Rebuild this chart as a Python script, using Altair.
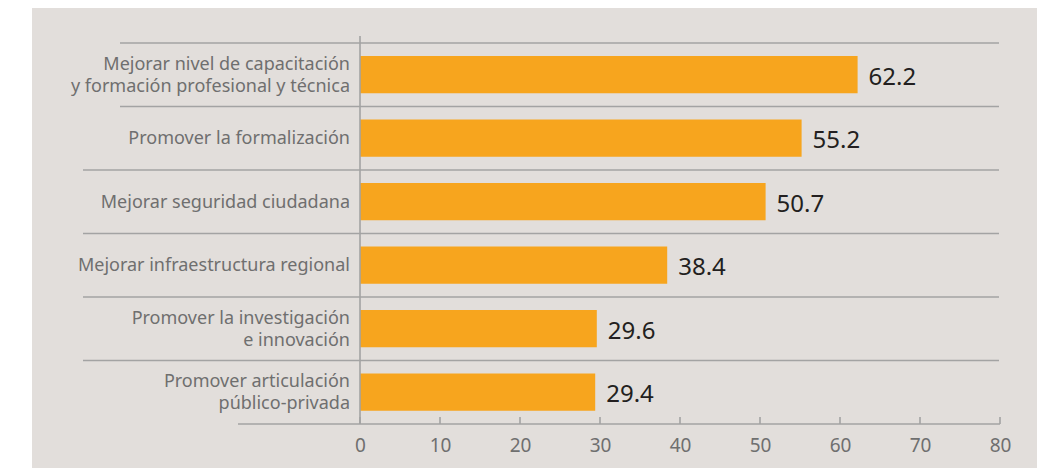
import altair as alt
import pandas as pd

categories = [
    ["Mejorar nivel de capacitación", "y formación profesional y técnica"],
    ["Promover la formalización"],
    ["Mejorar seguridad ciudadana"],
    ["Mejorar infraestructura regional"],
    ["Promover la investigación", "e innovación"],
    ["Promover articulación", "público-privada"],
]
values = [62.2, 55.2, 50.7, 38.4, 29.6, 29.4]
x_ticks = [0, 10, 20, 30, 40, 50, 60, 70, 80]
separators_long = [2, 3, 4, 5]
separators_short = [0, 1]

W, H = 640, 381
FONT = "Noto Sans"
BG = "#e2dedb"
BAR = "#f7a51e"
LINE = "#a3a3a3"
LABEL = "#6f6f6f"

df = pd.DataFrame({
    "idx": list(range(len(values))),
    "label": categories,
    "nlines": [len(c) for c in categories],
    "value": values,
    "vtext": [f"{v:.1f}" for v in values],
})

xscale = alt.Scale(domain=[0, 80], range=[0, W])
yscale = alt.Scale(domain=[0, 6], reverse=True)

panel = alt.Chart(pd.DataFrame({"a": [0]})).mark_rect(color=BG).encode(
    x=alt.value(-328), x2=alt.value(677), y=alt.value(-35), y2=alt.value(430)
)

sep_long = alt.Chart(pd.DataFrame({"b": separators_long})).mark_rule(
    color=LINE, strokeWidth=1.6
).encode(
    y=alt.Y("b:Q", scale=yscale, axis=None),
    x=alt.value(-277), x2=alt.value(639),
)
sep_short = alt.Chart(pd.DataFrame({"b": separators_short})).mark_rule(
    color=LINE, strokeWidth=1.6
).encode(
    y=alt.Y("b:Q", scale=yscale, axis=None),
    x=alt.value(-240), x2=alt.value(639),
)

base = alt.Chart(df)

bars = base.transform_calculate(
    y0="datum.idx + 0.205", y1="datum.idx + 0.79"
).mark_bar(color=BAR).encode(
    x=alt.X("value:Q", scale=xscale,
            axis=alt.Axis(values=x_ticks, domain=False, ticks=False, grid=False,
                          labelFontSize=19, labelColor=LABEL, labelFont=FONT,
                          labelFlush=False, labelPadding=12, title=None, zindex=2)),
    x2=alt.datum(0),
    y=alt.Y("y0:Q", scale=yscale, axis=None),
    y2="y1:Q",
)

vlabels = base.transform_calculate(yc="datum.idx + 0.5").mark_text(
    align="left", baseline="middle", dx=11, dy=3, fontSize=24, font=FONT, color="#231f20"
).encode(
    x=alt.X("value:Q", scale=xscale),
    y=alt.Y("yc:Q", scale=yscale, axis=None),
    text="vtext:N",
)

clabels_one = base.transform_filter("datum.nlines == 1").transform_calculate(
    yc="datum.idx + 0.5"
).mark_text(
    align="right", baseline="middle", fontSize=18, font=FONT, color=LABEL, dy=1
).encode(
    x=alt.value(-10),
    y=alt.Y("yc:Q", scale=yscale, axis=None),
    text="label",
)
clabels_two = base.transform_filter("datum.nlines == 2").transform_calculate(
    yc="datum.idx + 0.5"
).mark_text(
    align="right", baseline="middle", fontSize=18, font=FONT, color=LABEL,
    lineHeight=22, dy=-10
).encode(
    x=alt.value(-10),
    y=alt.Y("yc:Q", scale=yscale, axis=None),
    text="label",
)

yaxis_line = alt.Chart(pd.DataFrame({"a": [0]})).mark_rule(color=LINE, strokeWidth=1.6).encode(
    x=alt.value(0), y=alt.value(-7), y2=alt.value(H)
)
xaxis_line = alt.Chart(pd.DataFrame({"a": [0]})).mark_rule(color=LINE, strokeWidth=1.6).encode(
    x=alt.value(-122), x2=alt.value(W), y=alt.value(H)
)
xticks = alt.Chart(pd.DataFrame({"t": x_ticks})).mark_rule(color=LINE, strokeWidth=1.6).encode(
    x=alt.X("t:Q", scale=xscale), y=alt.value(H - 7), y2=alt.value(H)
)

chart = alt.layer(
    panel, sep_long, sep_short, bars, xaxis_line, xticks, yaxis_line, vlabels,
    clabels_one, clabels_two
).properties(
    width=W, height=H,
    autosize=alt.AutoSizeParams(type="none"),
    padding={"left": 360, "top": 43, "right": 39, "bottom": 44},
    background="white",
).configure_view(stroke=None)

chart.save("out.html", embed_options={"renderer": "svg", "actions": False})
